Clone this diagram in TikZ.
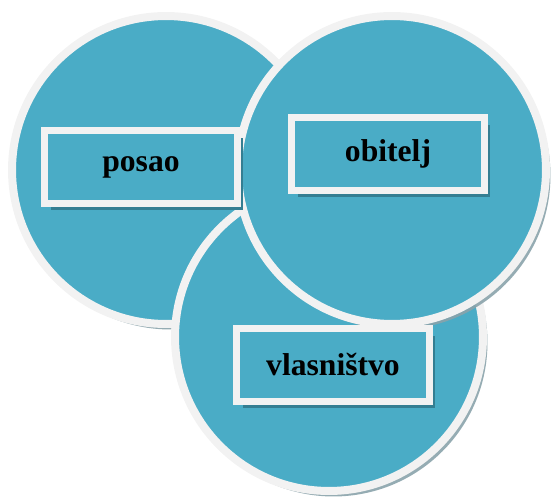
\documentclass[tikz,border=0pt]{standalone}
\usepackage{fontspec}
\setmainfont{Liberation Serif}
\usetikzlibrary{shadows}
\definecolor{tealfill}{HTML}{4AACC6}
\definecolor{ringgray}{HTML}{F2F2F2}
\definecolor{boxshadow}{HTML}{347E92}
\definecolor{circshadow}{HTML}{8AA3AB}
\begin{document}
\begin{tikzpicture}[x=0.02cm,y=-0.02cm,
  krug/.style={circle,draw=ringgray,fill=tealfill,line width=0.16cm,inner sep=0pt,minimum size=6.16cm,
    drop shadow={shadow xshift=0.09cm,shadow yshift=-0.11cm,fill=circshadow,opacity=0.9}},
  kutija/.style={rectangle,draw=ringgray,fill=tealfill,line width=0.14cm,inner sep=0pt,
    minimum width=3.86cm,minimum height=1.46cm,font=\fontsize{18}{20}\selectfont\bfseries,
    drop shadow={shadow xshift=0.12cm,shadow yshift=-0.14cm,fill=boxshadow,opacity=1}}]
\useasboundingbox (0,0) rectangle (551,497);

\node[krug] (krugposao) at (166,170) {};
\node[krug] (krugvlas) at (329,337) {};
\node[krug] (krugobitelj) at (392,170) {};

\node[kutija] (posao) at (141,167) {posao};
\node[kutija] (obitelj) at (388,154) {obitelj};
\node[kutija] (vlasnistvo) at (333,365) {vlasništvo};
\end{tikzpicture}
\end{document}
